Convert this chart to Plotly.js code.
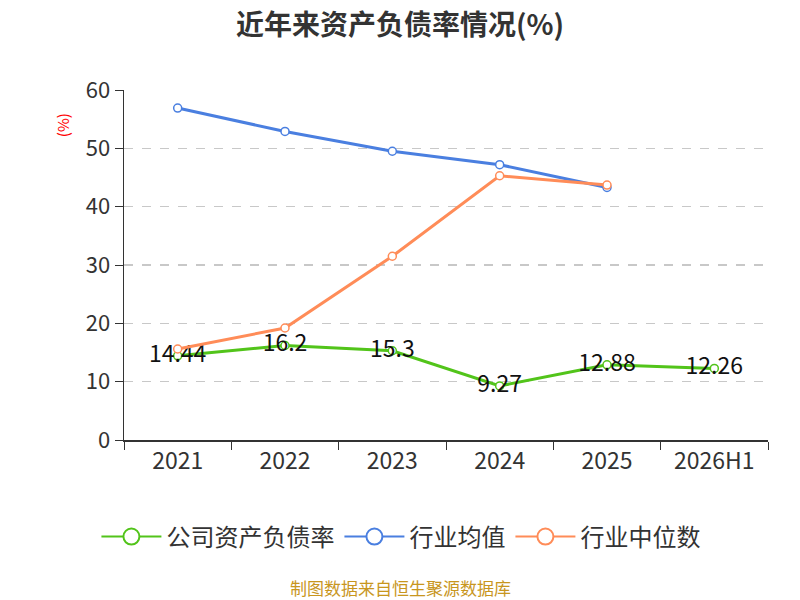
<!DOCTYPE html>
<html>
<head>
<meta charset="utf-8">
<script src="https://cdn.plot.ly/plotly-3.0.1.min.js"></script>
<style>
  body { margin: 0; background: #fff; }
  #chart { width: 800px; height: 600px; }
</style>
</head>
<body>
<div id="chart"></div>
<script>
// categories and series
var years = ['2021', '2022', '2023', '2024', '2025', '2026H1']
var companyRatio = [14.44, 16.2, 15.3, 9.27, 12.88, 12.26]
var industryMean = [56.9, 52.9, 49.5, 47.2, 43.3, null]
var industryMedian = [15.6, 19.2, 31.5, 45.3, 43.7, null]
var yTicks = [0, 10, 20, 30, 40, 50, 60]

var names = ['公司资产负债率', '行业均值', '行业中位数']
var colors = ['#52c41a', '#4a7fe0', '#ff8c58']

var FONT = '"Noto Sans CJK SC", "Noto Sans", sans-serif'

function series(i, y, extra) {
  var t = {
    x: years, y: y, name: names[i], type: 'scatter', mode: 'lines+markers',
    line: {color: colors[i], width: 3},
    marker: {symbol: 'circle', size: 8, color: '#ffffff', line: {color: colors[i], width: 1.5}},
    showlegend: false, legendgroup: 'g' + i, hoverinfo: 'skip'
  }
  for (var k in extra) t[k] = extra[k]
  return t
}

var data = [
  series(0, companyRatio, {
    mode: 'lines+markers+text',
    text: companyRatio.map(String),
    textposition: 'middle center',
    textfont: {size: 23, color: '#111', family: FONT}
  }),
  series(1, industryMean, {}),
  series(2, industryMedian, {})
]

// legend entries: thin line with a big open circle, as in the original
names.forEach(function (n, i) {
  data.push({
    x: [null], y: [null], name: n, type: 'scatter', mode: 'lines+markers',
    line: {color: colors[i], width: 2},
    marker: {symbol: 'circle', size: 16, color: '#ffffff', line: {color: colors[i], width: 2}},
    showlegend: true, legendgroup: 'g' + i, hoverinfo: 'skip'
  })
})

var layout = {
  width: 800, height: 600,
  paper_bgcolor: '#ffffff', plot_bgcolor: '#ffffff',
  font: {family: FONT, color: '#333'},
  margin: {l: 124, r: 32, t: 90, b: 160},
  title: {text: '<b>近年来资产负债率情况(%)</b>', x: 0.5, xanchor: 'center', y: 0.958, yanchor: 'middle',
    font: {size: 28, color: '#333', family: FONT}},
  showlegend: true,
  legend: {orientation: 'h', x: 0.43, xanchor: 'center', y: -0.277, yanchor: 'middle',
    font: {size: 24, color: '#333', family: FONT}, traceorder: 'normal',
    itemwidth: 60, itemsizing: 'trace', tracegroupgap: 20},
  xaxis: {
    type: 'category', range: [-0.5, 5.5],
    showline: true, linecolor: '#333', linewidth: 1.5,
    ticks: 'outside', tickson: 'boundaries', ticklen: 8, tickcolor: '#333',
    tickfont: {size: 23, color: '#333', family: FONT},
    showgrid: false, zeroline: false, fixedrange: true
  },
  yaxis: {
    range: [0, 60], tickvals: yTicks, ticktext: yTicks.map(String),
    showline: true, linecolor: '#333', linewidth: 1.5,
    ticks: 'outside', ticklen: 8, tickcolor: '#333',
    tickfont: {size: 22, color: '#333', family: FONT},
    showgrid: true, gridcolor: '#c8c8c8', griddash: 'dash', gridwidth: 1.2,
    zeroline: false, fixedrange: true
  },
  annotations: [
    {text: '(%)', xref: 'paper', yref: 'paper', x: -0.096, y: 0.9, xanchor: 'center', yanchor: 'middle',
      textangle: -90, showarrow: false, font: {size: 15, color: '#ff0000', family: FONT}},
    {text: '制图数据来自恒生聚源数据库', xref: 'paper', yref: 'paper', x: 0.43, y: -0.42,
      xanchor: 'center', yanchor: 'middle', showarrow: false,
      font: {size: 17, color: '#c8961e', family: FONT}}
  ]
}

Plotly.newPlot('chart', data, layout, {displayModeBar: false, staticPlot: true})
</script>
</body>
</html>
